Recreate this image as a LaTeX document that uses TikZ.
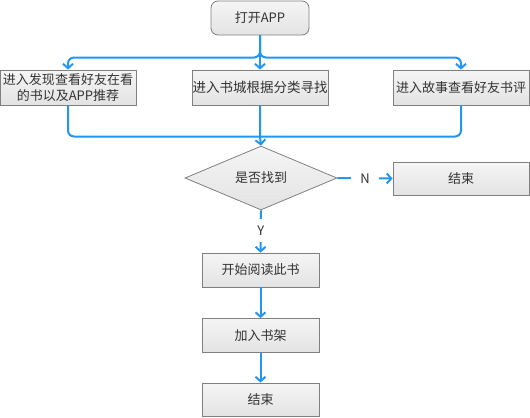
\documentclass[tikz,border=0pt]{standalone}
\usepackage{fontspec}
\usepackage{xcolor}
\newfontfamily\cjk{Noto Sans CJK SC}
\usetikzlibrary{positioning,shapes.geometric,arrows.meta}
\definecolor{flowblue}{HTML}{2196F3}
\definecolor{boxline}{HTML}{808080}
\definecolor{boxtext}{HTML}{333333}

\begin{document}
\begin{tikzpicture}[x=1bp,y=-1bp,
  txt/.style={text=boxtext,font=\cjk\fontsize{13bp}{16bp}\selectfont},
  box/.style={txt,draw=boxline,line width=0.8bp,top color=gray!8,bottom color=gray!22,
    minimum width=136bp,minimum height=35bp,inner sep=0pt,align=center},
  smallbox/.style={box,minimum width=117bp,minimum height=34bp},
  flow/.style={draw=flowblue,line width=2bp,-{Straight Barb[length=4.5bp,width=10bp,line width=2bp]}},
  link/.style={draw=flowblue,line width=2bp},
  lbl/.style={txt,fill=white,inner xsep=9bp,inner ysep=7bp}]
  \useasboundingbox (0,0) rectangle (530,417);
  % top
  \node[box,rounded corners=7bp,minimum width=98bp,minimum height=34bp] (start) at (260,18) {打开APP};
  \node[box] (find)  at (68,87.5)  {进入发现查看好友在看\\的书以及APP推荐};
  \node[box,font=\cjk\fontsize{13.5bp}{16bp}\selectfont] (store) at (260,87.5) {进入书城根据分类寻找};
  \node[box] (story) at (461,87.5) {进入故事查看好友书评};
  \coordinate (split) at (260,57.5);
  \coordinate (join) at (260,136.5);
  % decision
  \node[txt,diamond,draw=boxline,line width=0.8bp,top color=gray!8,bottom color=gray!22,
    minimum width=152bp,minimum height=60bp,inner sep=0pt] (found) at (261,178) {是否找到};
  \node[box,minimum height=33bp] (endno) at (461,178.5) {结束};
  % bottom
  \node[smallbox] (read)  at (260.5,270)   {开始阅读此书};
  \node[smallbox] (shelf) at (260.5,335.5) {加入书架};
  \node[smallbox,minimum height=33bp] (endyes) at (260.5,399.5) {结束};
  % connectors
  \draw[flow,rounded corners=6bp] (start.south) -- (split) -| (find.north);
  \draw[flow,rounded corners=6bp] (start.south) -- (split) -| (story.north);
  \draw[flow] (start.south) -- (store.north);
  \draw[link,rounded corners=6bp] (find.south) |- (join);
  \draw[link,rounded corners=6bp] (story.south) |- (join);
  \draw[flow] (store.south) -- (join) -- (found.north);
  \draw[flow] (found.east) -- node[lbl] {N} (endno.west);
  \draw[flow] (found.south) -- node[lbl,pos=0.48] {Y} (read.north);
  \draw[flow] (read.south) -- (shelf.north);
  \draw[flow] (shelf.south) -- (endyes.north);
\end{tikzpicture}
\end{document}
